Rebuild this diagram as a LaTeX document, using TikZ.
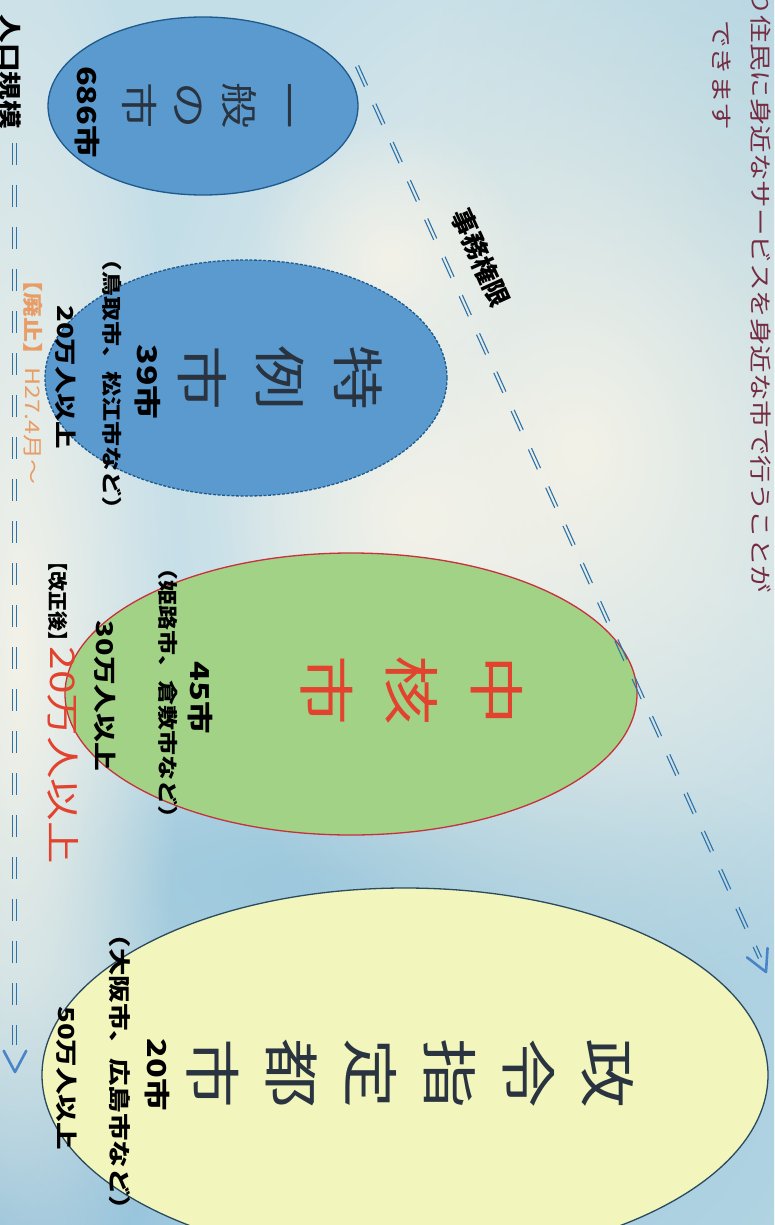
\documentclass[tikz,border=0pt]{standalone}
\usepackage{fontspec}
\setmainfont{Noto Sans CJK JP}
\usetikzlibrary{shapes.geometric,calc,fadings}
\definecolor{bgbase}{HTML}{C4DEE8}
\definecolor{cream}{HTML}{F3F2E8}
\definecolor{deepbg}{HTML}{9CC8DD}
\definecolor{cornerbg}{HTML}{84B9D8}
\definecolor{toprbg}{HTML}{A9CFE0}
\definecolor{bluefill}{HTML}{5A9ACF}
\definecolor{blueline}{HTML}{1E5A8C}
\definecolor{greenfill}{HTML}{A2D286}
\definecolor{redline}{HTML}{C8303C}
\definecolor{yellowfill}{HTML}{F2F5BC}
\definecolor{darkline}{HTML}{2B4A5E}
\definecolor{titlegray}{HTML}{2A3440}
\definecolor{redtext}{HTML}{E2432F}
\definecolor{orangetext}{HTML}{E89C66}
\definecolor{maroon}{HTML}{742C42}
\definecolor{dashblue}{HTML}{2E72AA}
\definecolor{chevblue}{HTML}{4A84C8}
\tikzfading[name=blobfade, inner color=transparent!0, outer color=transparent!100]
\begin{document}
\begin{tikzpicture}[x=1pt,y=-1pt,
  cityell/.style={ellipse, inner sep=0pt, line width=1.3pt},
  vtext/.style={rotate=-90, xscale=1.25, inner sep=0pt, align=center},
  lbl/.style={vtext, font=\bfseries\fontsize{#1}{#1}\selectfont, text=black},
  dl/.style={draw=dashblue, line width=1.1pt, dash pattern=on 22pt off 20pt},
  chev/.style={draw=chevblue, line width=2.6pt, line cap=round, line join=round},
  blob/.style={path fading=blobfade}
]
\useasboundingbox (0,0) rectangle (774,1225);
\clip (0,0) rectangle (774,1225);
% background
\fill[bgbase] (-5,-5) rectangle (780,1230);
\fill[toprbg, blob] (720,200) ellipse [x radius=300pt, y radius=500pt];
\fill[deepbg, blob] (420,1080) ellipse [x radius=760pt, y radius=520pt];
\fill[deepbg, blob] (330,880) ellipse [x radius=500pt, y radius=140pt];
\fill[cornerbg, blob] (0,1225) circle (260pt);
\fill[cream, blob] (580,450) ellipse [x radius=440pt, y radius=560pt];
\fill[cream, blob] (20,650) ellipse [x radius=160pt, y radius=800pt];
\fill[cream, blob] (420,520) circle (200pt);
\fill[cream, blob] (390,260) circle (140pt);

% lead text
\node[vtext, text=maroon, font=\fontsize{22}{22}\selectfont, anchor=west] (lead1) at (761,-12) {り住民に身近なサービスを身近な市で行うことが};
\node[vtext, text=maroon, font=\fontsize{22}{22}\selectfont, anchor=west] (lead2) at (722,20) {できます};

% ellipses
\node[cityell, fill=bluefill, draw=blueline, minimum width=310pt, minimum height=178pt] (ippan) at (203,106) {};
\node[cityell, fill=bluefill, draw=blueline, dash pattern=on 3pt off 1.6pt, minimum width=402pt, minimum height=236pt] (tokurei) at (246,378) {};
\node[cityell, fill=greenfill, draw=redline, minimum width=572pt, minimum height=282pt] (chukaku) at (351,694) {};
\node[cityell, fill=yellowfill, draw=darkline, minimum width=726pt, minimum height=374pt] (seirei) at (405,1075) {};

% titles
\node[vtext, text=titlegray, font=\fontsize{37}{50}\selectfont] (ippanT) at (207,106) {一\\般\\の\\市};
\node[vtext, text=titlegray, font=\fontsize{52}{78}\selectfont] (tokureiT) at (280,378) {特\\例\\市};
\node[vtext, text=redtext, font=\fontsize{56}{85}\selectfont] (chukakuT) at (412,690) {中\\核\\市};
\node[vtext, text=titlegray, font=\fontsize{56}{79}\selectfont] (seireiT) at (410,1073) {政\\令\\指\\定\\都\\市};

% labels
\node[lbl=26] (ippanN) at (87,112) {686市};
\node[lbl=27] (tokN) at (148,382) {39市};
\node[lbl=20] (tokEx) at (112,384) {（鳥取市、松江市など）};
\node[lbl=22] (tokPop) at (66,377) {20万人以上};
\node[vtext, text=orangetext, font=\fontsize{20}{20}\selectfont] (haishi) at (33,376) {\textbf{【廃止】}H27.4月～};

\node[lbl=26] (chuN) at (200,698) {45市};
\node[lbl=20] (chuEx) at (168,693) {（姫路市、倉敷市など）};
\node[lbl=23] (chuPop) at (105,696) {30万人以上};
\node[lbl=20, xscale=0.8] (kaisei) at (58,601) {【改正後】};
\node[vtext, text=redtext, font=\fontsize{34}{34}\selectfont] (newPop) at (63,755) {20万人以上};

\node[lbl=26] (seiN) at (157,1075) {20市};
\node[lbl=22] (seiEx) at (120,1072) {（大阪市、広島市など）};
\node[lbl=22] (seiPop) at (67,1078) {50万人以上};

\node[lbl=23] (jinko) at (10,72) {人口規模};

% population axis
\coordinate (atop) at (14.5,143);
\coordinate (aend) at (14.5,1045);
\coordinate (atip) at (15,1072);
\draw[dl] ($(atop)!1.7pt!90:(aend)$) -- ($(aend)!1.7pt!-90:(atop)$);
\draw[dl] ($(atop)!1.7pt!-90:(aend)$) -- ($(aend)!1.7pt!90:(atop)$);
\draw[chev] ($(atip)!24pt!28:(atop)$) -- (atip) -- ($(atip)!24pt!-28:(atop)$);

% authority axis
\coordinate (dtop) at (357,66);
\coordinate (dend) at (760,958);
\coordinate (dtip) at (766,972);
\draw[dl] ($(dtop)!1.7pt!90:(dend)$) -- ($(dend)!1.7pt!-90:(dtop)$);
\draw[dl] ($(dtop)!1.7pt!-90:(dend)$) -- ($(dend)!1.7pt!90:(dtop)$);
\draw[chev] ($(dtip)!24pt!28:(dtop)$) -- (dtip) -- ($(dtip)!24pt!-28:(dtop)$);
\node[rotate=-65.7, font=\bfseries\fontsize{26}{26}\selectfont, inner sep=0pt] (jimu) at (481,258) {事務権限};
\end{tikzpicture}
\end{document}
